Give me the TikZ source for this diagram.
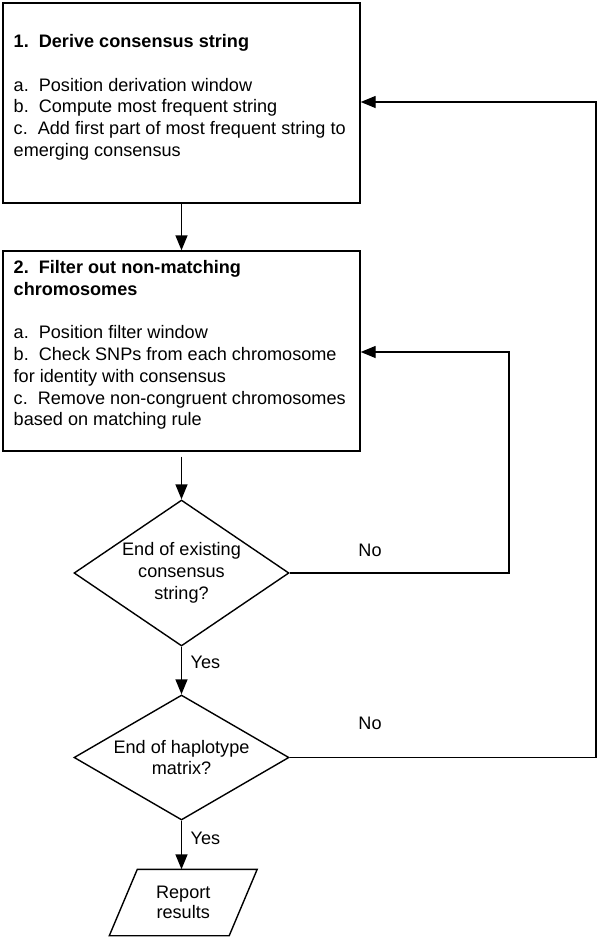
\documentclass[tikz,border=0pt]{standalone}
\usepackage{fontspec}
\setmainfont{Liberation Sans}
\usetikzlibrary{arrows.meta,shapes.geometric,calc}
\begin{document}
\begin{tikzpicture}[x=1pt,y=-1pt,
  line width=1.4pt,
  every node/.style={font=\fontsize{18.1pt}{21.7pt}\selectfont},
  boxnode/.style={draw,rectangle,minimum width=357pt,minimum height=200pt,inner sep=0pt},
  decision/.style={draw,diamond,minimum width=215pt,inner sep=0pt},
  txt/.style={align=left,inner sep=0pt,anchor=north west},
  ctxt/.style={align=center,inner sep=0pt},
  arr/.style={-{Triangle[length=15pt,width=12pt]}},
  lbl/.style={inner sep=0pt}
]
\useasboundingbox (0,0) rectangle (600,938);

% boxes
\node[boxnode] (b1) at (181.5,103) {};
\node[boxnode] (b2) at (181.5,351) {};
\node[txt] (t1) at (13,34) {\textbf{1.\ \ Derive consensus string}\\[21.7pt]
a.\ \ Position derivation window\\
b.\ \ Compute most frequent string\\
c.\ \ Add first part of most frequent string to\\
emerging consensus};
\node[txt] (t2) at (13,260) {\textbf{2.\ \ Filter out non-matching}\\
\textbf{chromosomes}\\[21.7pt]
a.\ \ Position filter window\\
b.\ \ Check SNPs from each chromosome\\
for identity with consensus\\
c.\ \ Remove non-congruent chromosomes\\
based on matching rule};

% decisions
\node[decision,minimum height=146pt] (d1) at (181.5,573) {};
\node[ctxt] (q1) at (d1.center) {End of existing\\consensus\\string?};
\node[decision,minimum height=125pt] (d2) at (181.5,757.5) {};
\node[ctxt] (q2) at (d2.center) {End of haplotype\\matrix?};

% report parallelogram
\node[inner sep=0pt,minimum width=118.5pt,minimum height=65pt] (rep) at (183.25,902.5) {};
\draw ($(rep.north west)+(14,0)$) -- ($(rep.north east)+(14,0)$)
  -- ($(rep.south east)+(-14,0)$) -- ($(rep.south west)+(-14,0)$) -- cycle;
\node[ctxt,font=\fontsize{18.1pt}{20pt}\selectfont] (rt) at (rep.center) {Report\\results};

% connectors
\draw[arr] (b1.south) -- (b2.north);
\draw[arr,shorten <=5pt] (b2.south) -- (d1.north);
\draw[arr] (d1.south) -- (d2.north);
\draw[arr] (d2.south) -- (d2.south |- rep.north);
\coordinate (loop1) at (509,352);
\coordinate (loop2) at (596,102);
\draw[arr] (d1.east) -| (loop1) -- (b2.east |- loop1);
\draw[arr] (d2.east) -| (loop2) -- (b1.east |- loop2);

% labels
\node[lbl] (no1) at (370,550) {No};
\node[lbl] (no2) at (370,723) {No};
\node[lbl,anchor=west] (yes1) at (190,662) {Yes};
\node[lbl,anchor=west] (yes2) at (190,838) {Yes};
\end{tikzpicture}
\end{document}
